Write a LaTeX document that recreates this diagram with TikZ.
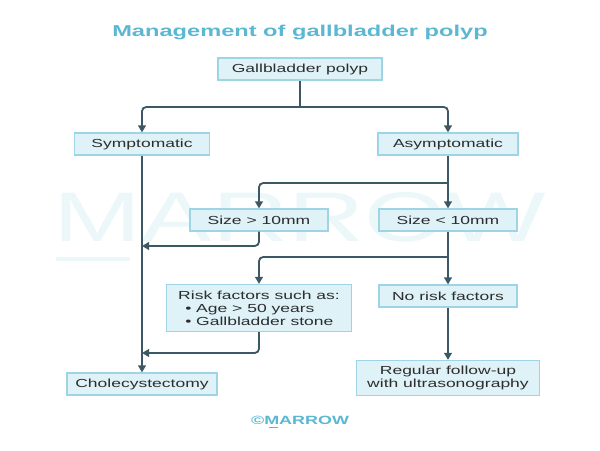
\documentclass[tikz,border=0pt]{standalone}
\usepackage{fontspec}
\setmainfont{Liberation Sans}[FakeStretch=1.5]
\usetikzlibrary{arrows.meta}
\definecolor{boxfill}{RGB}{222,242,247}
\definecolor{boxline}{RGB}{158,212,228}
\definecolor{flowline}{RGB}{60,88,100}
\definecolor{titleblue}{RGB}{92,183,210}
\definecolor{markblue}{RGB}{236,247,250}
\definecolor{textgray}{RGB}{45,45,45}
\tikzset{
  stepbox/.style={draw=boxline,fill=boxfill,line width=0.8pt,text=textgray,
    font=\fontsize{8.3}{9.2}\selectfont,minimum height=0.55cm,inner sep=2pt},
  flow/.style={draw=flowline,line width=1.3pt,rounded corners=3pt,
    -{Triangle[length=5pt,width=5.5pt]}},
  stem/.style={draw=flowline,line width=1.3pt}
}
\begin{document}
\begin{tikzpicture}[x=0.025cm,y=-0.025cm]
        \useasboundingbox (0,0) rectangle (600,450);
        \node[text=markblue,font=\fontsize{50}{50}\selectfont] (mark) at (300,217) {MARROW};
        \fill[markblue] (56,257) rectangle (130,261);
        \node[text=titleblue,font=\bfseries\fontsize{11.2}{13}\selectfont] (title) at (300,32) {Management of gallbladder polyp};
        \node[stepbox,minimum width=4.1cm] (polyp) at (300,69) {Gallbladder polyp};
        \node[stepbox,minimum width=3.375cm] (sym) at (142,144) {Symptomatic};
        \node[stepbox,minimum width=3.5cm] (asym) at (448,144) {Asymptomatic};
        \node[stepbox,minimum width=3.45cm] (gt10) at (259,220) {Size > 10mm};
        \node[stepbox,minimum width=3.45cm] (lt10) at (448,220) {Size < 10mm};
        \node[stepbox,minimum width=4.625cm,minimum height=1.175cm,align=left] (risk) at (259,308)
          {Risk factors such as:\\\hspace{0.6em}\textbullet\ Age > 50 years\\\hspace{0.6em}\textbullet\ Gallbladder stone};
        \node[stepbox,minimum width=3.45cm] (norisk) at (448,296) {No risk factors};
        \node[stepbox,minimum width=3.75cm] (chole) at (142,384) {Cholecystectomy};
        \node[stepbox,minimum width=4.575cm,minimum height=0.875cm,align=center] (follow) at (448,378)
          {Regular follow-up\\with ultrasonography};
        \node[text=titleblue,font=\bfseries\fontsize{8.5}{10}\selectfont] (footer) at (300,420) {©MARROW};
        \fill[titleblue] (269,426.5) rectangle (278,428);
        \coordinate (j1) at (300,107);
        \coordinate (j2) at (448,183);
        \coordinate (j3) at (448,257);
        \coordinate (m1) at (142,246);
        \coordinate (m2) at (142,353);
        \draw[stem] (polyp) -- (j1);
        \draw[flow] (j1) -| (sym);
        \draw[flow] (j1) -| (asym);
        \draw[flow] (asym) -- (lt10);
        \draw[flow] (j2) -| (gt10);
        \draw[flow] (sym) -- (chole);
        \draw[flow] (gt10) |- (m1);
        \draw[flow] (lt10) -- (norisk);
        \draw[flow] (j3) -| (risk);
        \draw[flow] (risk) |- (m2);
        \draw[flow] (norisk) -- (follow);
\end{tikzpicture}
\end{document}
